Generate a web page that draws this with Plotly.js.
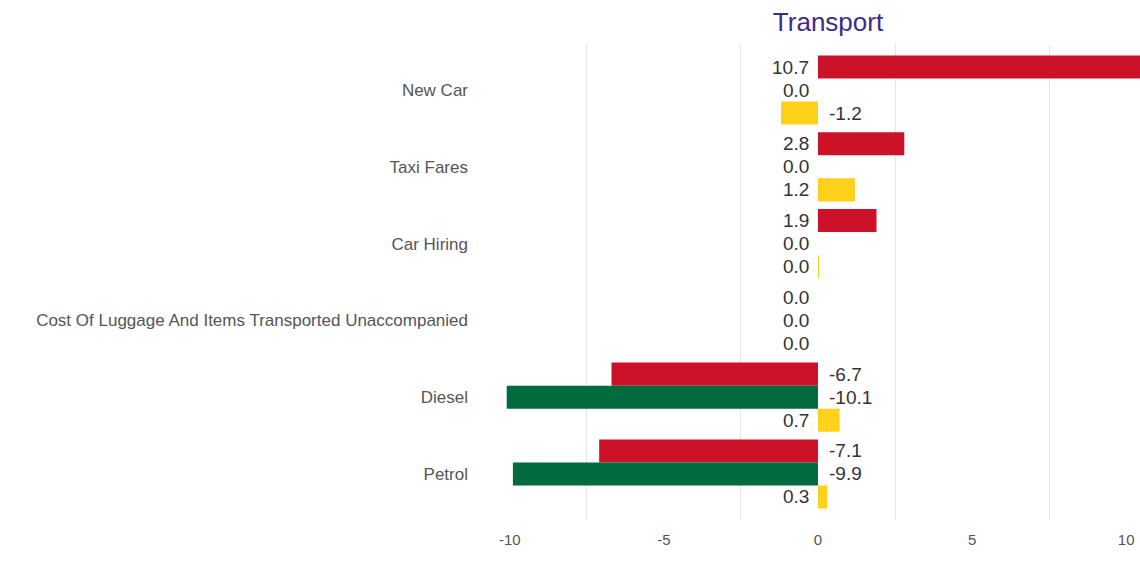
<!DOCTYPE html>
<html>
<head>
<meta charset="utf-8">
<script src="https://cdn.plot.ly/plotly-3.0.1.min.js"></script>
<style>html,body{margin:0;padding:0;background:#fff;}#chart{width:1140px;height:574px;}</style>
</head>
<body>
<div id="chart"></div>
<script>
var categories = ["New Car", "Taxi Fares", "Car Hiring", "Cost Of Luggage And Items Transported Unaccompanied", "Diesel", "Petrol"];
var seriesRed = [10.7, 2.8, 1.9, 0.0, -6.7, -7.1];
var seriesGreen = [0.0, 0.0, 0.0, 0.0, -10.1, -9.9];
var seriesYellow = [-1.2, 1.2, 0.04, 0.0, 0.7, 0.3];
var xTicks = [-10, -5, 0, 5, 10];

var series = [
  {name: "Red", values: seriesRed, color: "#CC1228"},
  {name: "Green", values: seriesGreen, color: "#006B3F"},
  {name: "Yellow", values: seriesYellow, color: "#FFD11A"}
];

var traces = series.map(function (s) {
  return {
    type: "bar", orientation: "h", name: s.name,
    x: s.values, y: categories,
    marker: {color: s.color},
    hoverinfo: "x+y"
  };
});

var annotations = [];
var shiftPx = 23;
series.forEach(function (s, si) {
  s.values.forEach(function (v, ci) {
    var pos = v >= 0;
    annotations.push({
      x: 0, y: categories[ci], xref: "x", yref: "y",
      text: v.toFixed(1), showarrow: false,
      xanchor: pos ? "right" : "left",
      xshift: pos ? -7 : 9,
      yshift: (1 - si) * shiftPx,
      font: {family: "Liberation Sans, Arial, sans-serif", size: 19, color: "#333333"}
    });
  });
});

var layout = {
  width: 1140, height: 574,
  paper_bgcolor: "#ffffff", plot_bgcolor: "#ffffff",
  margin: {l: 479, r: 0, t: 44, b: 54},
  showlegend: false,
  barmode: "group", bargap: 0.1, bargroupgap: 0,
  title: {
    text: "Transport", x: 828 / 1140, xref: "container", xanchor: "center",
    y: 1 - 22 / 574, yref: "container", yanchor: "middle",
    font: {family: "Liberation Sans, Arial, sans-serif", size: 26, color: "#3B2C86"}
  },
  xaxis: {
    range: [-11, 10.45], tickvals: xTicks, ticktext: xTicks.map(String),
    showgrid: false, zeroline: false, showline: false, ticks: "",
    tickfont: {family: "Liberation Sans, Arial, sans-serif", size: 15, color: "#555555"},
    ticklabelstandoff: 9,
    minor: {tick0: 2.5, dtick: 5, showgrid: true, gridcolor: "#e6e6e6", gridwidth: 1, ticks: ""}
  },
  yaxis: {
    type: "category", range: [5.6, -0.6],
    showgrid: false, zeroline: false, showline: false, ticks: "",
    tickfont: {family: "Liberation Sans, Arial, sans-serif", size: 17, color: "#555555"},
    ticklabelstandoff: 10
  },
  annotations: annotations
};

Plotly.newPlot("chart", traces, layout, {displayModeBar: false, staticPlot: true});
</script>
</body>
</html>
